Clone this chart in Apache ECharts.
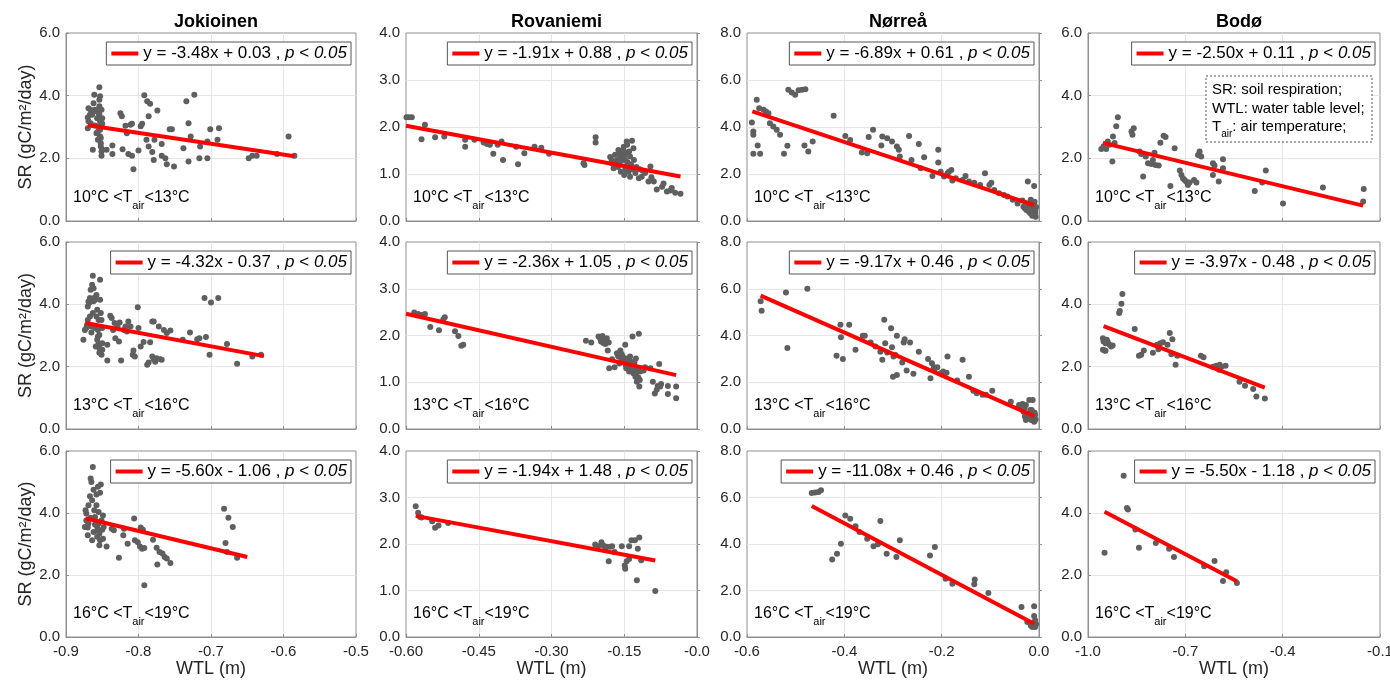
<!DOCTYPE html>
<html><head><meta charset="utf-8">
<script src="https://cdn.jsdelivr.net/npm/echarts@6/dist/echarts.min.js"></script>
<style>html,body{margin:0;padding:0;background:#fff}#c{width:1390px;height:682px}</style>
</head><body><div id="c"></div>
<script>
// ---------------- data ----------------
const sites = ['Jokioinen', 'Rovaniemi', 'Nørreå', 'Bodø'];
const tempLow = ['10', '13', '16'];
const tempHigh = ['13', '16', '19'];
const yAxisName = 'SR (gC/m²/day)';
const xAxisName = 'WTL (m)';
const glossary = ['SR: soil respiration;', 'WTL: water table level;', 'T{s|air}: air temperature;'];

const xMin = [-0.9, -0.6, -0.6, -1.0];
const xMax = [-0.5, 0, 0, -0.1];
const xStep = [0.1, 0.15, 0.2, 0.3];
const xTickLabels = [
  ['-0.9', '-0.8', '-0.7', '-0.6', '-0.5'],
  ['-0.60', '-0.45', '-0.30', '-0.15', '-0.0'],
  ['-0.6', '-0.4', '-0.2', '0.0'],
  ['-1.0', '-0.7', '-0.4', '-0.1']
];
const yMax = [6, 4, 8, 6];
const yStep = [2, 1, 2, 2];
const yTickLabels = [
  ['0.0', '2.0', '4.0', '6.0'],
  ['0.0', '1.0', '2.0', '3.0', '4.0'],
  ['0.0', '2.0', '4.0', '6.0', '8.0'],
  ['0.0', '2.0', '4.0', '6.0']
];

const slopes = [[-3.48, -1.91, -6.89, -2.50], [-4.32, -2.36, -9.17, -3.97], [-5.60, -1.94, -11.08, -5.50]];
const intercepts = [[0.03, 0.88, 0.61, 0.11], [-0.37, 1.05, 0.46, -0.48], [-1.06, 1.48, 0.46, -1.18]];
const fitX = [
  [[-0.870, -0.585], [-0.600, -0.034], [-0.589, -0.010], [-0.954, -0.152]],
  [[-0.873, -0.627], [-0.600, -0.043], [-0.572, -0.010], [-0.952, -0.455]],
  [[-0.873, -0.650], [-0.580, -0.086], [-0.467, -0.010], [-0.949, -0.541]]
];

const jok1 = [[-0.870,2.96],[-0.869,3.18],[-0.869,3.60],[-0.867,3.39],[-0.866,3.12],[-0.864,3.39],[-0.862,3.76],[-0.861,4.03],[-0.860,3.55],[-0.858,2.80],[-0.857,3.28],[-0.856,2.59],[-0.855,3.44],[-0.855,3.02],[-0.854,4.27],[-0.854,3.87],[-0.854,3.66],[-0.854,3.39],[-0.853,3.18],[-0.853,2.91],[-0.853,2.70],[-0.852,2.48],[-0.852,2.38],[-0.851,2.22],[-0.851,2.08],[-0.850,3.28],[-0.850,2.27],[-0.863,2.27],[-0.853,3.98],[-0.858,3.50],[-0.860,3.05],[-0.856,2.85],[-0.851,3.55],[-0.850,3.10],[-0.852,2.65],[-0.866,3.55],[-0.870,3.30],
[-0.844,2.27],[-0.836,2.41],[-0.836,2.14],[-0.825,3.44],[-0.823,3.34],[-0.822,2.29],[-0.818,3.04],[-0.816,2.80],[-0.811,3.07],[-0.809,3.10],[-0.814,2.14],[-0.809,2.08],[-0.807,1.65],[-0.800,2.25],[-0.797,3.02],[-0.795,3.10],[-0.792,4.01],[-0.788,3.82],[-0.784,3.74],[-0.789,2.59],[-0.786,3.34],[-0.786,2.38],[-0.781,2.20],[-0.779,1.95],[-0.778,2.59],[-0.774,3.53],[-0.768,2.46],[-0.768,2.08],[-0.763,2.00],[-0.761,1.81],[-0.757,2.93],[-0.754,2.93],[-0.751,1.74],[-0.738,2.32],[-0.734,3.82],[-0.731,3.12],[-0.731,1.90],[-0.728,2.70],[-0.723,4.03],[-0.716,2.00],[-0.715,2.38],[-0.705,2.54],[-0.705,2.00],[-0.701,2.93],[-0.691,2.59],[-0.689,2.96],[-0.648,2.00],[-0.643,2.08],[-0.637,2.08],[-0.609,2.14],[-0.593,2.70],[-0.585,2.08]];

const rov1 = [[-0.599,2.21],[-0.594,2.21],[-0.588,2.21],[-0.568,1.74],[-0.561,2.05],[-0.540,1.78],[-0.521,1.80],[-0.478,1.73],[-0.478,1.58],[-0.459,1.73],[-0.440,1.67],[-0.433,1.64],[-0.427,1.62],[-0.420,1.43],[-0.411,1.62],[-0.403,1.69],[-0.400,1.30],[-0.373,1.58],[-0.369,1.21],[-0.356,1.44],[-0.335,1.58],[-0.321,1.56],[-0.305,1.43],[-0.234,1.23],[-0.232,1.19],[-0.209,1.78],[-0.209,1.67],
[-0.179,1.36],[-0.175,1.23],[-0.172,1.12],[-0.169,1.41],[-0.165,1.30],[-0.162,1.51],[-0.158,1.37],[-0.155,1.44],[-0.151,1.58],[-0.149,1.16],[-0.148,1.30],[-0.147,1.09],[-0.145,1.69],[-0.141,1.16],[-0.138,1.37],[-0.134,1.71],[-0.131,1.55],[-0.141,1.05],[-0.138,0.94],[-0.127,1.02],[-0.120,0.91],[-0.114,0.94],[-0.112,1.07],[-0.107,1.02],[-0.100,0.84],[-0.096,1.16],[-0.094,0.93],[-0.093,0.87],[-0.089,0.84],[-0.083,0.67],[-0.072,0.73],[-0.069,0.80],[-0.062,0.63],[-0.055,0.65],[-0.052,0.70],[-0.045,0.60],[-0.034,0.58],
[-0.176,1.30],[-0.168,1.25],[-0.160,1.20],[-0.156,1.28],[-0.153,1.35],[-0.150,1.40],[-0.146,1.45],[-0.143,1.25],[-0.140,1.48],[-0.136,1.20],[-0.133,1.10],[-0.160,1.45],[-0.152,1.50],[-0.144,1.62],[-0.130,1.30],[-0.125,1.15],[-0.118,1.10],[-0.163,1.15],[-0.157,1.05],[-0.150,0.98]];

const nor1 = [[-0.590,4.19],[-0.587,3.81],[-0.587,3.67],[-0.587,2.86],[-0.580,5.16],[-0.578,3.21],[-0.575,4.80],[-0.573,2.86],[-0.566,4.73],[-0.561,4.66],[-0.556,4.59],[-0.553,4.16],[-0.546,4.02],[-0.539,3.88],[-0.532,3.67],[-0.524,2.86],[-0.517,3.20],[-0.515,5.58],[-0.508,5.47],[-0.501,5.37],[-0.494,5.56],[-0.487,5.58],[-0.480,5.61],[-0.482,3.21],[-0.474,2.96],[-0.465,3.38],[-0.422,4.48],[-0.398,3.62],[-0.388,3.45],[-0.364,2.91],[-0.353,2.88],[-0.350,3.57],[-0.341,3.88],[-0.324,3.21],[-0.322,3.60],[-0.312,3.52],[-0.302,3.38],[-0.292,3.17],[-0.288,3.03],[-0.286,2.74],[-0.267,3.62],[-0.262,2.60],[-0.247,3.28],[-0.243,2.25],[-0.236,2.71],[-0.219,1.92],[-0.207,3.03],[-0.207,2.49],[-0.202,2.10],[-0.195,1.89],[-0.188,2.03],[-0.185,2.10],[-0.180,2.17],[-0.178,1.72],[-0.171,1.82],[-0.157,1.75],[-0.151,1.92],[-0.144,1.68],[-0.133,1.63],[-0.121,1.53],[-0.111,2.03],[-0.102,1.53],[-0.098,1.63],[-0.092,1.32],[-0.082,1.18],[-0.072,1.11],[-0.065,1.04],[-0.054,0.90],[-0.044,0.75],[-0.034,0.87],[-0.027,0.75],[-0.023,1.68],[-0.010,1.49],
[-0.032,0.61],[-0.029,0.54],[-0.026,0.47],[-0.023,0.68],[-0.021,0.40],[-0.018,0.33],[-0.016,0.61],[-0.015,0.50],[-0.013,0.26],[-0.012,0.75],[-0.010,0.40],[-0.009,0.82],[-0.008,0.33],[-0.007,0.18],[-0.010,0.54],[-0.020,0.50],[-0.025,0.75],[-0.017,0.90],[-0.006,0.60],[-0.008,0.45],[-0.011,0.30],[-0.014,0.22]];

const bod1 = [[-0.959,2.30],[-0.952,2.38],[-0.944,2.30],[-0.939,2.54],[-0.934,2.43],[-0.925,1.90],[-0.923,2.70],[-0.918,2.49],[-0.913,3.02],[-0.908,3.31],[-0.866,2.86],[-0.863,2.75],[-0.859,2.96],[-0.841,2.22],[-0.836,2.14],[-0.830,1.42],[-0.822,2.06],[-0.815,1.84],[-0.805,1.82],[-0.800,1.95],[-0.795,2.18],[-0.792,1.79],[-0.782,1.77],[-0.777,2.50],[-0.767,2.72],[-0.761,2.68],[-0.746,1.12],[-0.733,2.32],[-0.717,1.61],[-0.712,1.47],[-0.707,1.36],[-0.702,1.31],[-0.697,1.25],[-0.692,1.15],[-0.687,1.23],[-0.673,1.31],[-0.666,1.23],[-0.661,2.11],[-0.656,2.22],[-0.651,2.06],[-0.615,1.47],[-0.615,1.84],[-0.610,1.77],[-0.597,1.26],[-0.584,1.68],[-0.584,1.97],[-0.486,0.96],[-0.463,1.23],[-0.452,1.61],[-0.399,0.56],[-0.276,1.07],[-0.152,0.62],[-0.150,1.02]];

const jok2 = [[-0.876,2.86],[-0.874,3.18],[-0.872,3.24],[-0.871,3.34],[-0.870,3.93],[-0.869,4.09],[-0.867,4.20],[-0.866,4.47],[-0.864,4.63],[-0.863,4.92],[-0.862,4.52],[-0.861,4.20],[-0.860,4.15],[-0.858,3.61],[-0.857,3.83],[-0.856,3.18],[-0.856,2.97],[-0.855,2.75],[-0.854,2.59],[-0.854,2.45],[-0.853,4.79],[-0.853,4.15],[-0.852,3.72],[-0.851,3.50],[-0.850,3.24],[-0.850,2.75],[-0.850,2.54],[-0.851,2.38],[-0.870,3.50],[-0.867,3.61],[-0.865,3.29],[-0.863,3.72],[-0.860,3.24],[-0.857,2.86],[-0.855,3.50],[-0.854,3.02],[-0.868,4.05],[-0.862,4.10],[-0.858,4.30],[-0.865,3.10],[-0.859,2.65],
[-0.843,2.70],[-0.843,2.20],[-0.839,3.63],[-0.837,3.56],[-0.835,3.18],[-0.833,3.40],[-0.832,2.91],[-0.829,3.29],[-0.827,2.81],[-0.826,3.42],[-0.824,2.20],[-0.820,3.18],[-0.818,3.29],[-0.816,3.13],[-0.814,3.45],[-0.811,3.29],[-0.808,2.38],[-0.807,2.52],[-0.805,2.33],[-0.801,3.91],[-0.800,3.24],[-0.797,2.65],[-0.793,2.79],[-0.788,2.06],[-0.786,2.13],[-0.784,2.78],[-0.781,3.45],[-0.779,3.45],[-0.781,2.33],[-0.779,2.24],[-0.777,2.16],[-0.775,2.27],[-0.772,3.29],[-0.770,2.24],[-0.768,2.22],[-0.765,3.18],[-0.761,3.08],[-0.756,3.16],[-0.739,2.86],[-0.729,3.10],[-0.719,2.88],[-0.716,2.91],[-0.709,4.20],[-0.707,2.95],[-0.702,2.38],[-0.700,4.06],[-0.690,4.20],[-0.678,2.73],[-0.664,2.09],[-0.643,2.33],[-0.631,2.38]];

const rov2 = [[-0.583,2.49],[-0.575,2.46],[-0.568,2.44],[-0.561,2.46],[-0.550,2.18],[-0.532,2.11],[-0.523,2.35],[-0.520,2.39],[-0.499,2.09],[-0.492,1.99],[-0.486,1.78],[-0.482,1.80],
[-0.229,1.89],[-0.218,1.85],[-0.203,1.98],[-0.200,1.94],[-0.198,1.87],[-0.195,1.99],[-0.193,1.84],[-0.191,1.91],[-0.189,1.82],[-0.186,1.94],[-0.184,1.68],[-0.182,1.85],[-0.181,1.30],[-0.175,1.49],[-0.170,1.32],[-0.165,1.62],[-0.162,1.55],[-0.158,1.68],[-0.156,1.48],[-0.155,1.59],[-0.151,1.44],[-0.148,1.80],[-0.147,1.37],[-0.145,1.51],[-0.142,1.41],[-0.141,1.34],[-0.140,1.23],[-0.138,1.55],[-0.136,1.44],[-0.134,1.32],[-0.133,1.98],[-0.131,1.19],[-0.129,1.42],[-0.127,1.12],[-0.126,1.51],[-0.124,1.01],[-0.122,1.26],[-0.120,2.04],[-0.119,0.91],[-0.117,1.23],[-0.114,1.26],[-0.110,1.25],[-0.107,1.32],[-0.096,1.30],[-0.091,1.01],[-0.087,0.76],[-0.083,0.84],[-0.081,0.92],[-0.078,1.39],[-0.076,0.91],[-0.074,0.96],[-0.060,0.75],[-0.060,0.92],[-0.043,0.91],[-0.043,0.66],
[-0.160,1.40],[-0.150,1.50],[-0.146,1.30],[-0.143,1.45],[-0.139,1.35],[-0.137,1.28],[-0.132,1.40],[-0.128,1.30],[-0.125,1.20],[-0.121,1.10],[-0.118,1.05],[-0.153,1.55],[-0.157,1.62],[-0.163,1.58]];

const nor2 = [[-0.572,5.46],[-0.570,5.06],[-0.520,5.84],[-0.517,3.46],[-0.476,6.00],[-0.416,3.13],[-0.408,4.46],[-0.407,3.93],[-0.403,2.99],[-0.390,4.46],[-0.377,3.39],[-0.362,3.99],[-0.358,3.99],[-0.346,3.70],[-0.336,3.53],[-0.326,3.31],[-0.322,2.96],[-0.318,4.67],[-0.316,3.67],[-0.312,3.27],[-0.304,4.31],[-0.302,3.50],[-0.300,2.24],[-0.299,3.10],[-0.295,3.17],[-0.292,2.31],[-0.292,3.99],[-0.281,2.84],[-0.278,3.70],[-0.276,3.84],[-0.272,2.50],[-0.265,3.70],[-0.258,2.36],[-0.247,3.31],[-0.228,2.99],[-0.223,2.17],[-0.220,2.81],[-0.216,2.64],[-0.213,2.60],[-0.209,2.64],[-0.202,2.39],[-0.197,2.46],[-0.190,2.41],[-0.188,3.10],[-0.168,2.07],[-0.157,2.96],[-0.144,2.24],[-0.135,1.64],[-0.128,1.53],[-0.116,1.46],[-0.109,1.46],[-0.096,1.64],[-0.058,1.17],[-0.041,1.03],[-0.037,0.96],[-0.034,1.07],[-0.030,0.89],[-0.027,1.03],[-0.020,1.24],[-0.013,1.24],[-0.015,0.81],
[-0.032,0.74],[-0.029,0.53],[-0.025,0.60],[-0.022,0.46],[-0.019,0.67],[-0.016,0.39],[-0.013,0.53],[-0.010,0.31],[-0.009,0.70],[-0.007,0.41],[-0.008,0.60],[-0.018,0.81],[-0.027,0.39],[-0.012,0.45],[-0.020,0.55]];

const bod2 = [[-0.954,2.91],[-0.952,2.81],[-0.949,2.52],[-0.946,2.75],[-0.942,2.86],[-0.939,2.78],[-0.934,2.70],[-0.929,2.65],[-0.924,2.68],[-0.954,2.54],[-0.946,2.51],[-0.904,3.72],[-0.902,3.79],[-0.897,4.02],[-0.894,4.33],[-0.856,3.21],[-0.843,2.35],[-0.836,2.38],[-0.828,2.52],[-0.800,2.45],[-0.787,2.70],[-0.783,2.56],[-0.777,2.75],[-0.769,2.78],[-0.755,2.70],[-0.748,3.08],[-0.743,2.40],[-0.740,2.88],[-0.730,2.06],[-0.725,2.35],[-0.652,2.35],[-0.644,2.30],[-0.615,2.00],[-0.605,2.03],[-0.596,1.90],[-0.594,2.06],[-0.589,2.00],[-0.576,2.03],[-0.533,1.52],[-0.516,1.39],[-0.491,1.28],[-0.481,1.04],[-0.455,0.98]];

const jok3 = [[-0.873,4.09],[-0.872,3.76],[-0.871,3.57],[-0.870,3.28],[-0.869,4.25],[-0.867,4.54],[-0.866,5.11],[-0.865,5.00],[-0.864,4.41],[-0.863,5.48],[-0.862,4.75],[-0.861,4.09],[-0.860,3.87],[-0.858,4.25],[-0.857,3.55],[-0.856,3.44],[-0.855,4.03],[-0.854,3.33],[-0.853,3.12],[-0.852,4.92],[-0.853,4.65],[-0.851,3.76],[-0.850,3.46],[-0.849,3.17],[-0.854,2.96],[-0.855,3.66],[-0.860,3.63],[-0.866,3.85],[-0.870,3.53],[-0.864,3.12],[-0.857,3.23],[-0.849,3.92],[-0.848,3.55],[-0.874,3.55],[-0.872,3.98],[-0.862,3.39],[-0.869,3.66],[-0.858,4.60],[-0.856,4.85],
[-0.844,2.92],[-0.837,3.49],[-0.834,3.44],[-0.827,2.56],[-0.821,3.28],[-0.820,3.49],[-0.815,3.01],[-0.806,3.82],[-0.805,3.12],[-0.801,3.06],[-0.798,2.92],[-0.797,3.53],[-0.794,3.46],[-0.795,2.85],[-0.792,2.87],[-0.792,1.67],[-0.780,3.14],[-0.775,2.88],[-0.774,2.34],[-0.771,2.74],[-0.767,2.69],[-0.764,2.58],[-0.761,2.53],[-0.756,2.39],
[-0.682,4.14],[-0.680,3.03],[-0.676,3.85],[-0.670,3.55],[-0.678,2.74],[-0.664,2.56]];

const rov3 = [[-0.580,2.81],[-0.575,2.67],[-0.571,2.58],[-0.568,2.57],[-0.546,2.49],[-0.540,2.35],[-0.533,2.40],[-0.513,2.45],
[-0.210,1.99],[-0.204,1.95],[-0.197,2.04],[-0.193,1.97],[-0.189,1.90],[-0.186,1.94],[-0.182,1.63],[-0.179,1.94],[-0.175,1.95],[-0.170,1.83],[-0.155,1.95],[-0.149,1.54],[-0.148,1.47],[-0.145,1.63],[-0.140,1.95],[-0.140,1.68],[-0.135,2.08],[-0.128,2.08],[-0.124,1.22],[-0.122,1.90],[-0.119,2.14],[-0.115,1.65],[-0.086,0.99]];

const nor3 = [[-0.467,6.19],[-0.460,6.22],[-0.453,6.24],[-0.448,6.31],[-0.425,3.33],[-0.415,3.58],[-0.407,4.01],[-0.398,5.23],[-0.388,5.09],[-0.377,4.76],[-0.369,4.52],[-0.353,4.23],[-0.340,3.90],[-0.331,3.99],[-0.326,4.99],[-0.313,3.58],[-0.293,3.44],[-0.286,4.16],[-0.224,3.51],[-0.214,3.87],[-0.192,2.51],[-0.178,2.29],[-0.133,2.27],[-0.132,2.47],[-0.104,1.89],[-0.036,1.29],[-0.010,1.32],[-0.024,0.65],[-0.017,0.50],[-0.014,0.43],[-0.010,0.46],[-0.008,0.43],[-0.006,0.55],[-0.010,0.90],[-0.008,0.72]];

const bod3 = [[-0.949,2.72],[-0.890,5.20],[-0.880,4.16],[-0.877,4.11],[-0.854,3.47],[-0.843,2.88],[-0.791,3.03],[-0.750,2.85],[-0.735,2.58],[-0.642,2.28],[-0.610,2.45],[-0.584,1.81],[-0.574,2.09],[-0.541,1.74]];

const panels = [[jok1, rov1, nor1, bod1], [jok2, rov2, nor2, bod2], [jok3, rov3, nor3, bod3]];

// ---------------- layout / style ----------------
const W = 1390;
const colLeft = [66, 406, 747, 1088];
const colWidth = [290, 291, 292, 292];
const rowTop = [33, 242, 451];
const rowHeight = [188, 187, 186];
const FONT = 'Liberation Sans, Arial, Helvetica, sans-serif';
const TXT = '#262626';
const BORDER = '#8f8f8f';
const GRIDLINE = '#e6e6e6';

const grid = [], xAxis = [], yAxis = [], series = [], legend = [], title = [], graphic = [];

function eqText(r, c) {
  const s = slopes[r][c], b = intercepts[r][c];
  return 'y = ' + s.toFixed(2) + 'x ' + (b < 0 ? '- ' : '+ ') + Math.abs(b).toFixed(2) + ' , {i|p} < {i|0.05}';
}

for (let r = 0; r < 3; r++) {
  for (let c = 0; c < 4; c++) {
    const i = r * 4 + c;
    grid.push({
      left: colLeft[c], top: rowTop[r], width: colWidth[c], height: rowHeight[r],
      containLabel: false, outerBoundsMode: 'none',
      show: true, borderColor: BORDER, borderWidth: 1, backgroundColor: '#fff'
    });
    const xl = xTickLabels[c], yl = yTickLabels[c];
    xAxis.push({
      type: 'value', gridIndex: i, min: xMin[c], max: xMax[c], interval: xStep[c],
      axisLine: { show: true, lineStyle: { color: BORDER } },
      axisTick: { show: true, inside: true, length: 3, lineStyle: { color: BORDER } },
      splitLine: { show: true, showMinLine: false, showMaxLine: false, lineStyle: { color: GRIDLINE, width: 1 } },
      axisLabel: {
        show: r === 2, margin: 7, hideOverlap: false, showMinLabel: true, showMaxLabel: true,
        color: TXT, fontFamily: FONT, fontSize: 15,
        formatter: v => { const k = Math.round((v - xMin[c]) / xStep[c]); return xl[k] !== undefined ? xl[k] : ''; }
      },
      name: r === 2 ? xAxisName : '', nameLocation: 'middle', nameGap: 22,
      nameTextStyle: { color: TXT, fontFamily: FONT, fontSize: 18 }
    });
    yAxis.push({
      type: 'value', gridIndex: i, min: 0, max: yMax[c], interval: yStep[c],
      axisLine: { show: true, lineStyle: { color: BORDER } },
      axisTick: { show: true, inside: true, length: 3, lineStyle: { color: BORDER } },
      splitLine: { show: true, showMinLine: false, showMaxLine: false, lineStyle: { color: GRIDLINE, width: 1 } },
      axisLabel: {
        show: true, margin: 6, hideOverlap: false, showMinLabel: true, showMaxLabel: true,
        color: TXT, fontFamily: FONT, fontSize: 15,
        formatter: v => { const k = Math.round(v / yStep[c]); return yl[k] !== undefined ? yl[k] : ''; }
      },
      name: c === 0 ? yAxisName : '', nameLocation: 'middle', nameGap: 30,
      nameTextStyle: { color: TXT, fontFamily: FONT, fontSize: 18 }
    });
    series.push({
      type: 'scatter', name: 'obs-' + r + '-' + c, xAxisIndex: i, yAxisIndex: i,
      data: panels[r][c], symbolSize: 6, itemStyle: { color: '#5f5f5f', opacity: 1 },
      silent: true, z: 2
    });
    const fx = fitX[r][c];
    const fitName = 'fit-' + r + '-' + c;
    series.push({
      type: 'line', name: fitName, xAxisIndex: i, yAxisIndex: i,
      data: fx.map(x => [x, slopes[r][c] * x + intercepts[r][c]]),
      symbol: 'none', color: '#ff0000', lineStyle: { color: '#ff0000', width: 4 },
      silent: true, z: 3
    });
    legend.push({
      data: [{ name: fitName, icon: 'rect' }],
      right: W - (colLeft[c] + colWidth[c] - 5), top: rowTop[r] + 9,
      orient: 'horizontal', itemWidth: 27, itemHeight: 4,
      padding: [3, 4, 3, 5], borderColor: '#555', borderWidth: 1, backgroundColor: '#fff',
      selectedMode: false,
      formatter: () => eqText(r, c),
      textStyle: {
        color: '#000', fontFamily: FONT, fontSize: 17,
        rich: { i: { fontStyle: 'italic', color: '#000', fontFamily: FONT, fontSize: 17 } }
      }
    });
    graphic.push({
      type: 'text', x: colLeft[c] + 7, y: rowTop[r] + rowHeight[r] - 23, z: 10,
      style: {
        text: tempLow[r] + '°C <T{s|air}<' + tempHigh[r] + '°C',
        fill: '#000', fontFamily: FONT, fontSize: 16, lineHeight: 26, verticalAlign: 'middle',
        rich: { s: { fontSize: 11, fontFamily: FONT, fill: '#000', color: '#000', verticalAlign: 'bottom' } }
      }
    });
  }
}

for (let c = 0; c < 4; c++) {
  title.push({
    text: sites[c], left: colLeft[c] + colWidth[c] / 2, top: 8, textAlign: 'center',
    textStyle: { color: '#000', fontFamily: FONT, fontSize: 18, fontWeight: 'bold' }
  });
}

// glossary box in the top-right panel
const gx = colLeft[3] + 118, gy = rowTop[0] + 43;
graphic.push({
  type: 'rect', shape: { x: gx, y: gy, width: 166, height: 66 }, z: 10,
  style: { fill: '#fff', stroke: '#555', lineWidth: 1, lineDash: [2, 2] }
});
glossary.forEach((t, k) => {
  graphic.push({
    type: 'text', x: gx + 6, y: gy + 14 + k * 18.5, z: 11,
    style: {
      text: t, fill: '#000', fontFamily: FONT, fontSize: 15, lineHeight: 24, verticalAlign: 'middle',
      rich: { s: { fontSize: 10, fontFamily: FONT, fill: '#000', color: '#000', verticalAlign: 'bottom' } }
    }
  });
});

const chart = echarts.init(document.getElementById('c'), null, { renderer: 'canvas' });
chart.setOption({
  animation: false, backgroundColor: '#fff',
  title, grid, xAxis, yAxis, series, legend, graphic
});
</script></body></html>
